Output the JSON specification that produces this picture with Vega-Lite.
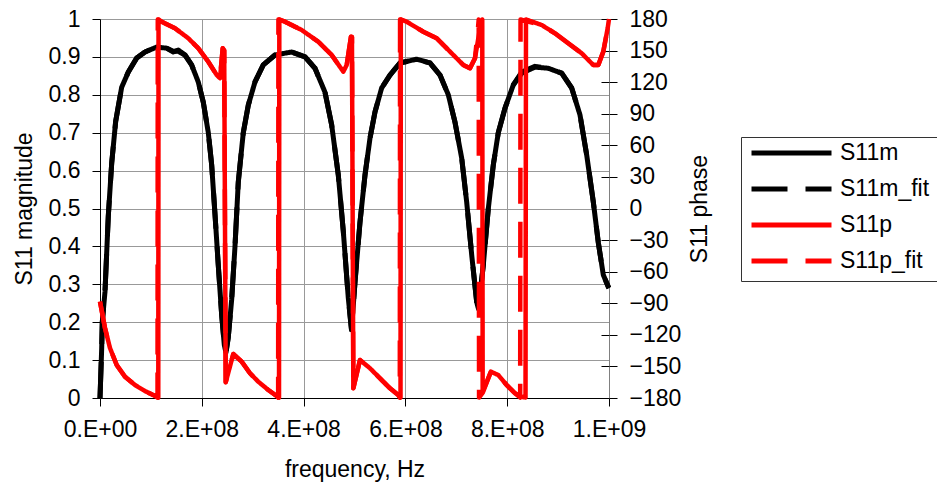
{
  "$schema": "https://vega.github.io/schema/vega-lite/v6.json",
  "width": 509,
  "height": 379,
  "autosize": {"type": "none"},
  "padding": {"left": 100, "top": 19, "right": 328, "bottom": 93},
  "background": "white",
  "config": {
    "font": "Liberation Sans",
    "view": {"stroke": null},
    "axis": {
      "labelFontSize": 23,
      "titleFontSize": 23,
      "titleFontWeight": "normal",
      "labelColor": "black",
      "titleColor": "black",
      "tickColor": "black",
      "domainColor": "black",
      "tickSize": 8,
      "tickWidth": 1,
      "domainWidth": 1,
      "gridColor": "#999999",
      "gridWidth": 1
    },
    "legend": {
      "orient": "none",
      "legendX": 641,
      "legendY": 118,
      "title": null,
      "strokeColor": "#333333",
      "fillColor": "white",
      "padding": 8,
      "symbolType": "stroke",
      "symbolSize": 6400,
      "symbolStrokeWidth": 5,
      "clipHeight": 16,
      "rowPadding": 13,
      "labelFontSize": 23,
      "labelColor": "black",
      "labelOffset": 6,
      "labelLimit": 300
    }
  },
  "datasets": {
    "d": [
      {"s": "S11m", "f": 0, "v": 0},
      {"s": "S11m", "f": 3.3e6, "v": 0.13},
      {"s": "S11m", "f": 4.5e6, "v": 0.2},
      {"s": "S11m", "f": 9.8e6, "v": 0.28},
      {"s": "S11m", "f": 1.63e7, "v": 0.48},
      {"s": "S11m", "f": 2.3e7, "v": 0.62},
      {"s": "S11m", "f": 3.08e7, "v": 0.73},
      {"s": "S11m", "f": 4.26e7, "v": 0.82},
      {"s": "S11m", "f": 5.56e7, "v": 0.86},
      {"s": "S11m", "f": 7.21e7, "v": 0.897},
      {"s": "S11m", "f": 8.84e7, "v": 0.913},
      {"s": "S11m", "f": 1.114e8, "v": 0.926},
      {"s": "S11m", "f": 1.31e8, "v": 0.923},
      {"s": "S11m", "f": 1.44e8, "v": 0.913},
      {"s": "S11m", "f": 1.538e8, "v": 0.918},
      {"s": "S11m", "f": 1.67e8, "v": 0.905},
      {"s": "S11m", "f": 1.8e8, "v": 0.879},
      {"s": "S11m", "f": 1.93e8, "v": 0.834},
      {"s": "S11m", "f": 2.03e8, "v": 0.78},
      {"s": "S11m", "f": 2.128e8, "v": 0.7},
      {"s": "S11m", "f": 2.194e8, "v": 0.615},
      {"s": "S11m", "f": 2.26e8, "v": 0.483},
      {"s": "S11m", "f": 2.324e8, "v": 0.35},
      {"s": "S11m", "f": 2.39e8, "v": 0.22},
      {"s": "S11m", "f": 2.442e8, "v": 0.14},
      {"s": "S11m", "f": 2.475e8, "v": 0.12},
      {"s": "S11m", "f": 2.52e8, "v": 0.16},
      {"s": "S11m", "f": 2.587e8, "v": 0.26},
      {"s": "S11m", "f": 2.652e8, "v": 0.4},
      {"s": "S11m", "f": 2.717e8, "v": 0.57},
      {"s": "S11m", "f": 2.815e8, "v": 0.7},
      {"s": "S11m", "f": 2.914e8, "v": 0.773},
      {"s": "S11m", "f": 3.045e8, "v": 0.834},
      {"s": "S11m", "f": 3.208e8, "v": 0.879},
      {"s": "S11m", "f": 3.438e8, "v": 0.905},
      {"s": "S11m", "f": 3.766e8, "v": 0.913},
      {"s": "S11m", "f": 4.028e8, "v": 0.9},
      {"s": "S11m", "f": 4.224e8, "v": 0.87},
      {"s": "S11m", "f": 4.42e8, "v": 0.807},
      {"s": "S11m", "f": 4.552e8, "v": 0.72},
      {"s": "S11m", "f": 4.682e8, "v": 0.588},
      {"s": "S11m", "f": 4.78e8, "v": 0.44},
      {"s": "S11m", "f": 4.878e8, "v": 0.264},
      {"s": "S11m", "f": 4.941e8, "v": 0.18},
      {"s": "S11m", "f": 5.01e8, "v": 0.306},
      {"s": "S11m", "f": 5.108e8, "v": 0.464},
      {"s": "S11m", "f": 5.206e8, "v": 0.588},
      {"s": "S11m", "f": 5.305e8, "v": 0.686},
      {"s": "S11m", "f": 5.403e8, "v": 0.755},
      {"s": "S11m", "f": 5.534e8, "v": 0.818},
      {"s": "S11m", "f": 5.697e8, "v": 0.852},
      {"s": "S11m", "f": 5.894e8, "v": 0.884},
      {"s": "S11m", "f": 6.222e8, "v": 0.894},
      {"s": "S11m", "f": 6.483e8, "v": 0.884},
      {"s": "S11m", "f": 6.68e8, "v": 0.852},
      {"s": "S11m", "f": 6.843e8, "v": 0.8},
      {"s": "S11m", "f": 6.974e8, "v": 0.728},
      {"s": "S11m", "f": 7.106e8, "v": 0.633},
      {"s": "S11m", "f": 7.204e8, "v": 0.517},
      {"s": "S11m", "f": 7.303e8, "v": 0.377},
      {"s": "S11m", "f": 7.401e8, "v": 0.253},
      {"s": "S11m", "f": 7.436e8, "v": 0.235},
      {"s": "S11m", "f": 7.53e8, "v": 0.35},
      {"s": "S11m", "f": 7.629e8, "v": 0.5},
      {"s": "S11m", "f": 7.727e8, "v": 0.615},
      {"s": "S11m", "f": 7.825e8, "v": 0.7},
      {"s": "S11m", "f": 7.957e8, "v": 0.765},
      {"s": "S11m", "f": 8.12e8, "v": 0.826},
      {"s": "S11m", "f": 8.285e8, "v": 0.857},
      {"s": "S11m", "f": 8.546e8, "v": 0.873},
      {"s": "S11m", "f": 8.807e8, "v": 0.87},
      {"s": "S11m", "f": 9.071e8, "v": 0.857},
      {"s": "S11m", "f": 9.267e8, "v": 0.818},
      {"s": "S11m", "f": 9.43e8, "v": 0.747},
      {"s": "S11m", "f": 9.562e8, "v": 0.641},
      {"s": "S11m", "f": 9.692e8, "v": 0.517},
      {"s": "S11m", "f": 9.79e8, "v": 0.41},
      {"s": "S11m", "f": 9.888e8, "v": 0.325},
      {"s": "S11m", "f": 9.987e8, "v": 0.293},
      {"s": "S11m", "f": 1e9, "v": 0.29},

      {"s": "S11m_fit", "f": 0, "v": 0},
      {"s": "S11m_fit", "f": 3.3e6, "v": 0.13},
      {"s": "S11m_fit", "f": 4.5e6, "v": 0.2},
      {"s": "S11m_fit", "f": 9.8e6, "v": 0.28},
      {"s": "S11m_fit", "f": 1.63e7, "v": 0.48},
      {"s": "S11m_fit", "f": 2.3e7, "v": 0.62},
      {"s": "S11m_fit", "f": 3.08e7, "v": 0.73},
      {"s": "S11m_fit", "f": 4.26e7, "v": 0.82},
      {"s": "S11m_fit", "f": 5.56e7, "v": 0.86},
      {"s": "S11m_fit", "f": 7.21e7, "v": 0.897},
      {"s": "S11m_fit", "f": 8.84e7, "v": 0.913},
      {"s": "S11m_fit", "f": 1.114e8, "v": 0.926},
      {"s": "S11m_fit", "f": 1.31e8, "v": 0.923},
      {"s": "S11m_fit", "f": 1.44e8, "v": 0.915},
      {"s": "S11m_fit", "f": 1.538e8, "v": 0.915},
      {"s": "S11m_fit", "f": 1.67e8, "v": 0.905},
      {"s": "S11m_fit", "f": 1.8e8, "v": 0.879},
      {"s": "S11m_fit", "f": 1.93e8, "v": 0.834},
      {"s": "S11m_fit", "f": 2.03e8, "v": 0.78},
      {"s": "S11m_fit", "f": 2.128e8, "v": 0.7},
      {"s": "S11m_fit", "f": 2.194e8, "v": 0.615},
      {"s": "S11m_fit", "f": 2.26e8, "v": 0.483},
      {"s": "S11m_fit", "f": 2.324e8, "v": 0.35},
      {"s": "S11m_fit", "f": 2.39e8, "v": 0.22},
      {"s": "S11m_fit", "f": 2.442e8, "v": 0.14},
      {"s": "S11m_fit", "f": 2.475e8, "v": 0.12},
      {"s": "S11m_fit", "f": 2.52e8, "v": 0.16},
      {"s": "S11m_fit", "f": 2.587e8, "v": 0.26},
      {"s": "S11m_fit", "f": 2.652e8, "v": 0.4},
      {"s": "S11m_fit", "f": 2.717e8, "v": 0.57},
      {"s": "S11m_fit", "f": 2.815e8, "v": 0.7},
      {"s": "S11m_fit", "f": 2.914e8, "v": 0.773},
      {"s": "S11m_fit", "f": 3.045e8, "v": 0.834},
      {"s": "S11m_fit", "f": 3.208e8, "v": 0.879},
      {"s": "S11m_fit", "f": 3.438e8, "v": 0.905},
      {"s": "S11m_fit", "f": 3.766e8, "v": 0.913},
      {"s": "S11m_fit", "f": 4.028e8, "v": 0.9},
      {"s": "S11m_fit", "f": 4.224e8, "v": 0.87},
      {"s": "S11m_fit", "f": 4.42e8, "v": 0.807},
      {"s": "S11m_fit", "f": 4.552e8, "v": 0.72},
      {"s": "S11m_fit", "f": 4.682e8, "v": 0.588},
      {"s": "S11m_fit", "f": 4.78e8, "v": 0.44},
      {"s": "S11m_fit", "f": 4.878e8, "v": 0.264},
      {"s": "S11m_fit", "f": 4.941e8, "v": 0.18},
      {"s": "S11m_fit", "f": 5.01e8, "v": 0.306},
      {"s": "S11m_fit", "f": 5.108e8, "v": 0.464},
      {"s": "S11m_fit", "f": 5.206e8, "v": 0.588},
      {"s": "S11m_fit", "f": 5.305e8, "v": 0.686},
      {"s": "S11m_fit", "f": 5.403e8, "v": 0.755},
      {"s": "S11m_fit", "f": 5.534e8, "v": 0.818},
      {"s": "S11m_fit", "f": 5.697e8, "v": 0.852},
      {"s": "S11m_fit", "f": 5.894e8, "v": 0.884},
      {"s": "S11m_fit", "f": 6.222e8, "v": 0.894},
      {"s": "S11m_fit", "f": 6.483e8, "v": 0.884},
      {"s": "S11m_fit", "f": 6.68e8, "v": 0.852},
      {"s": "S11m_fit", "f": 6.843e8, "v": 0.8},
      {"s": "S11m_fit", "f": 6.974e8, "v": 0.728},
      {"s": "S11m_fit", "f": 7.106e8, "v": 0.633},
      {"s": "S11m_fit", "f": 7.204e8, "v": 0.517},
      {"s": "S11m_fit", "f": 7.303e8, "v": 0.377},
      {"s": "S11m_fit", "f": 7.401e8, "v": 0.253},
      {"s": "S11m_fit", "f": 7.436e8, "v": 0.235},
      {"s": "S11m_fit", "f": 7.53e8, "v": 0.35},
      {"s": "S11m_fit", "f": 7.629e8, "v": 0.5},
      {"s": "S11m_fit", "f": 7.727e8, "v": 0.615},
      {"s": "S11m_fit", "f": 7.825e8, "v": 0.7},
      {"s": "S11m_fit", "f": 7.957e8, "v": 0.765},
      {"s": "S11m_fit", "f": 8.12e8, "v": 0.826},
      {"s": "S11m_fit", "f": 8.285e8, "v": 0.86},
      {"s": "S11m_fit", "f": 8.546e8, "v": 0.875},
      {"s": "S11m_fit", "f": 8.807e8, "v": 0.87},
      {"s": "S11m_fit", "f": 9.071e8, "v": 0.857},
      {"s": "S11m_fit", "f": 9.267e8, "v": 0.818},
      {"s": "S11m_fit", "f": 9.43e8, "v": 0.747},
      {"s": "S11m_fit", "f": 9.562e8, "v": 0.641},
      {"s": "S11m_fit", "f": 9.692e8, "v": 0.517},
      {"s": "S11m_fit", "f": 9.79e8, "v": 0.41},
      {"s": "S11m_fit", "f": 9.888e8, "v": 0.325},
      {"s": "S11m_fit", "f": 9.987e8, "v": 0.293},
      {"s": "S11m_fit", "f": 1e9, "v": 0.29},

      {"s": "S11p", "f": 0, "v": -88.5},
      {"s": "S11p", "f": 9.8e6, "v": -113.5},
      {"s": "S11p", "f": 1.96e7, "v": -132.5},
      {"s": "S11p", "f": 3.28e7, "v": -148.7},
      {"s": "S11p", "f": 4.91e7, "v": -159.8},
      {"s": "S11p", "f": 6.88e7, "v": -167.7},
      {"s": "S11p", "f": 8.84e7, "v": -173.4},
      {"s": "S11p", "f": 1.114e8, "v": -178.8},
      {"s": "S11p", "f": 1.145e8, "v": -179.6},
      {"s": "S11p", "f": 1.15e8, "v": 179.6},
      {"s": "S11p", "f": 1.212e8, "v": 177.4},
      {"s": "S11p", "f": 1.473e8, "v": 171.2},
      {"s": "S11p", "f": 1.735e8, "v": 161.7},
      {"s": "S11p", "f": 1.931e8, "v": 152.2},
      {"s": "S11p", "f": 2.128e8, "v": 139.4},
      {"s": "S11p", "f": 2.293e8, "v": 126.8},
      {"s": "S11p", "f": 2.358e8, "v": 123.7},
      {"s": "S11p", "f": 2.411e8, "v": 152.2},
      {"s": "S11p", "f": 2.44e8, "v": 150},
      {"s": "S11p", "f": 2.47e8, "v": -165},
      {"s": "S11p", "f": 2.619e8, "v": -138.2},
      {"s": "S11p", "f": 2.784e8, "v": -145.5},
      {"s": "S11p", "f": 2.947e8, "v": -156.5},
      {"s": "S11p", "f": 3.11e8, "v": -164.5},
      {"s": "S11p", "f": 3.307e8, "v": -172.4},
      {"s": "S11p", "f": 3.49e8, "v": -178.8},
      {"s": "S11p", "f": 3.517e8, "v": -179.6},
      {"s": "S11p", "f": 3.523e8, "v": 179.6},
      {"s": "S11p", "f": 3.635e8, "v": 177.4},
      {"s": "S11p", "f": 3.963e8, "v": 169.5},
      {"s": "S11p", "f": 4.289e8, "v": 158.4},
      {"s": "S11p", "f": 4.552e8, "v": 145.8},
      {"s": "S11p", "f": 4.78e8, "v": 130},
      {"s": "S11p", "f": 4.847e8, "v": 136.3},
      {"s": "S11p", "f": 4.931e8, "v": 163.2},
      {"s": "S11p", "f": 4.95e8, "v": 163},
      {"s": "S11p", "f": 4.977e8, "v": -170.8},
      {"s": "S11p", "f": 5.108e8, "v": -143.9},
      {"s": "S11p", "f": 5.305e8, "v": -151.8},
      {"s": "S11p", "f": 5.501e8, "v": -161.3},
      {"s": "S11p", "f": 5.697e8, "v": -170.8},
      {"s": "S11p", "f": 5.861e8, "v": -177.2},
      {"s": "S11p", "f": 5.904e8, "v": -179.6},
      {"s": "S11p", "f": 5.91e8, "v": 179.6},
      {"s": "S11p", "f": 6.026e8, "v": 177.4},
      {"s": "S11p", "f": 6.352e8, "v": 167.9},
      {"s": "S11p", "f": 6.615e8, "v": 161.7},
      {"s": "S11p", "f": 6.876e8, "v": 149},
      {"s": "S11p", "f": 7.138e8, "v": 136.3},
      {"s": "S11p", "f": 7.269e8, "v": 133.2},
      {"s": "S11p", "f": 7.367e8, "v": 142.7},
      {"s": "S11p", "f": 7.466e8, "v": 171.2},
      {"s": "S11p", "f": 7.51e8, "v": 179.6},
      {"s": "S11p", "f": 7.518e8, "v": -174},
      {"s": "S11p", "f": 7.68e8, "v": -155},
      {"s": "S11p", "f": 7.825e8, "v": -158.2},
      {"s": "S11p", "f": 7.99e8, "v": -167.7},
      {"s": "S11p", "f": 8.153e8, "v": -175.5},
      {"s": "S11p", "f": 8.285e8, "v": -178.8},
      {"s": "S11p", "f": 8.36e8, "v": -179.6},
      {"s": "S11p", "f": 8.369e8, "v": 179.6},
      {"s": "S11p", "f": 8.677e8, "v": 174.3},
      {"s": "S11p", "f": 8.939e8, "v": 166.4},
      {"s": "S11p", "f": 9.2e8, "v": 156.9},
      {"s": "S11p", "f": 9.464e8, "v": 147.4},
      {"s": "S11p", "f": 9.692e8, "v": 136.3},
      {"s": "S11p", "f": 9.79e8, "v": 136.3},
      {"s": "S11p", "f": 9.888e8, "v": 149},
      {"s": "S11p", "f": 9.974e8, "v": 171.2},
      {"s": "S11p", "f": 1e9, "v": 180},

      {"s": "S11p_fit", "f": 0, "v": -88.5},
      {"s": "S11p_fit", "f": 9.8e6, "v": -113.5},
      {"s": "S11p_fit", "f": 1.96e7, "v": -132.5},
      {"s": "S11p_fit", "f": 3.28e7, "v": -148.7},
      {"s": "S11p_fit", "f": 4.91e7, "v": -159.8},
      {"s": "S11p_fit", "f": 6.88e7, "v": -167.7},
      {"s": "S11p_fit", "f": 8.84e7, "v": -173.4},
      {"s": "S11p_fit", "f": 1.114e8, "v": -178.8},
      {"s": "S11p_fit", "f": 1.13e8, "v": -179.6},
      {"s": "S11p_fit", "f": 1.135e8, "v": 179.6},
      {"s": "S11p_fit", "f": 1.212e8, "v": 177.4},
      {"s": "S11p_fit", "f": 1.473e8, "v": 171.2},
      {"s": "S11p_fit", "f": 1.735e8, "v": 161.7},
      {"s": "S11p_fit", "f": 1.931e8, "v": 152.2},
      {"s": "S11p_fit", "f": 2.128e8, "v": 139.4},
      {"s": "S11p_fit", "f": 2.293e8, "v": 126.8},
      {"s": "S11p_fit", "f": 2.358e8, "v": 123.7},
      {"s": "S11p_fit", "f": 2.411e8, "v": 152.2},
      {"s": "S11p_fit", "f": 2.44e8, "v": 150},
      {"s": "S11p_fit", "f": 2.47e8, "v": -165},
      {"s": "S11p_fit", "f": 2.619e8, "v": -138.2},
      {"s": "S11p_fit", "f": 2.784e8, "v": -145.5},
      {"s": "S11p_fit", "f": 2.947e8, "v": -156.5},
      {"s": "S11p_fit", "f": 3.11e8, "v": -164.5},
      {"s": "S11p_fit", "f": 3.307e8, "v": -172.4},
      {"s": "S11p_fit", "f": 3.49e8, "v": -178.8},
      {"s": "S11p_fit", "f": 3.5e8, "v": -179.6},
      {"s": "S11p_fit", "f": 3.505e8, "v": 179.6},
      {"s": "S11p_fit", "f": 3.635e8, "v": 177.4},
      {"s": "S11p_fit", "f": 3.963e8, "v": 169.5},
      {"s": "S11p_fit", "f": 4.289e8, "v": 158.4},
      {"s": "S11p_fit", "f": 4.552e8, "v": 145.8},
      {"s": "S11p_fit", "f": 4.78e8, "v": 130},
      {"s": "S11p_fit", "f": 4.847e8, "v": 136.3},
      {"s": "S11p_fit", "f": 4.931e8, "v": 163.2},
      {"s": "S11p_fit", "f": 4.95e8, "v": 163},
      {"s": "S11p_fit", "f": 4.977e8, "v": -170.8},
      {"s": "S11p_fit", "f": 5.108e8, "v": -143.9},
      {"s": "S11p_fit", "f": 5.305e8, "v": -151.8},
      {"s": "S11p_fit", "f": 5.501e8, "v": -161.3},
      {"s": "S11p_fit", "f": 5.697e8, "v": -170.8},
      {"s": "S11p_fit", "f": 5.861e8, "v": -177.2},
      {"s": "S11p_fit", "f": 5.89e8, "v": -179.6},
      {"s": "S11p_fit", "f": 5.895e8, "v": 179.6},
      {"s": "S11p_fit", "f": 6.026e8, "v": 177.4},
      {"s": "S11p_fit", "f": 6.352e8, "v": 167.9},
      {"s": "S11p_fit", "f": 6.615e8, "v": 161.7},
      {"s": "S11p_fit", "f": 6.876e8, "v": 149},
      {"s": "S11p_fit", "f": 7.138e8, "v": 136.3},
      {"s": "S11p_fit", "f": 7.269e8, "v": 133.2},
      {"s": "S11p_fit", "f": 7.367e8, "v": 142.7},
      {"s": "S11p_fit", "f": 7.42e8, "v": 168},
      {"s": "S11p_fit", "f": 7.44e8, "v": 179.6},
      {"s": "S11p_fit", "f": 7.447e8, "v": -179.6},
      {"s": "S11p_fit", "f": 7.52e8, "v": -175},
      {"s": "S11p_fit", "f": 7.68e8, "v": -155},
      {"s": "S11p_fit", "f": 7.825e8, "v": -158.2},
      {"s": "S11p_fit", "f": 7.99e8, "v": -167.7},
      {"s": "S11p_fit", "f": 8.153e8, "v": -175.5},
      {"s": "S11p_fit", "f": 8.255e8, "v": -179.6},
      {"s": "S11p_fit", "f": 8.262e8, "v": 179.6},
      {"s": "S11p_fit", "f": 8.37e8, "v": 178},
      {"s": "S11p_fit", "f": 8.677e8, "v": 174.3},
      {"s": "S11p_fit", "f": 8.939e8, "v": 166.4},
      {"s": "S11p_fit", "f": 9.2e8, "v": 156.9},
      {"s": "S11p_fit", "f": 9.464e8, "v": 147.4},
      {"s": "S11p_fit", "f": 9.692e8, "v": 136.3},
      {"s": "S11p_fit", "f": 9.79e8, "v": 136.3},
      {"s": "S11p_fit", "f": 9.888e8, "v": 149},
      {"s": "S11p_fit", "f": 9.974e8, "v": 171.2},
      {"s": "S11p_fit", "f": 1e9, "v": 180}
    ]
  },
  "data": {"name": "d"},
  "encoding": {
    "x": {
      "field": "f",
      "type": "quantitative",
      "scale": {"domain": [0, 1000000000], "nice": false, "zero": false},
      "axis": {
        "title": "frequency, Hz",
        "values": [0, 200000000, 400000000, 600000000, 800000000, 1000000000],
        "labelExpr": "replace(format(datum.value, '.0e'), regexp('e[+]([0-9])$'), '.E+0$1')",
        "grid": true,
        "labelPadding": 12,
        "titlePadding": 17,
        "labelFlush": false,
        "labelOverlap": false
      }
    },
    "color": {
      "field": "s",
      "type": "nominal",
      "scale": {"domain": ["S11m", "S11m_fit", "S11p", "S11p_fit"], "range": ["#000000", "#000000", "#ff0000", "#ff0000"]},
      "legend": {"title": null}
    },
    "strokeDash": {
      "field": "s",
      "type": "nominal",
      "scale": {"domain": ["S11m", "S11m_fit", "S11p", "S11p_fit"], "range": [[1, 0], [36, 18], [1, 0], [36, 18]]},
      "legend": {"title": null}
    }
  },
  "layer": [
    {
      "transform": [{"filter": "datum.s == 'S11m' || datum.s == 'S11m_fit'"}],
      "mark": {"type": "line", "strokeWidth": 5, "strokeJoin": "round"},
      "encoding": {
        "y": {
          "field": "v",
          "type": "quantitative",
          "scale": {"domain": [0, 1], "nice": false, "zero": false},
          "axis": {
            "orient": "left",
            "title": "S11 magnitude",
            "values": [0, 0.1, 0.2, 0.3, 0.4, 0.5, 0.6, 0.7, 0.8, 0.9, 1],
            "format": "~g",
            "grid": true,
            "labelPadding": 12,
            "titlePadding": 12
          }
        }
      }
    },
    {
      "transform": [{"filter": "datum.s == 'S11p' || datum.s == 'S11p_fit'"}],
      "mark": {"type": "line", "strokeWidth": 4.5, "strokeJoin": "round"},
      "encoding": {
        "y": {
          "field": "v",
          "type": "quantitative",
          "scale": {"domain": [-180, 180], "nice": false, "zero": false},
          "axis": {
            "orient": "right",
            "title": "S11 phase",
            "titleAngle": 270,
            "values": [-180, -150, -120, -90, -60, -30, 0, 30, 60, 90, 120, 150, 180],
            "format": "d",
            "grid": false,
            "domainColor": "#808080",
            "labelPadding": 12,
            "titlePadding": 31
          }
        }
      }
    },
    {
      "transform": [{"filter": "datum.s == 'S11p'"}],
      "mark": {"type": "line", "opacity": 0, "strokeWidth": 0},
      "encoding": {
        "y": {
          "field": "v",
          "type": "quantitative",
          "scale": {"domain": [-180, 180], "nice": false, "zero": false},
          "axis": {
            "orient": "left",
            "offset": -509,
            "title": null,
            "labels": false,
            "domain": false,
            "grid": false,
            "values": [-180, -150, -120, -90, -60, -30, 0, 30, 60, 90, 120, 150, 180]
          }
        }
      }
    }
  ],
  "resolve": {"scale": {"y": "independent"}}
}
